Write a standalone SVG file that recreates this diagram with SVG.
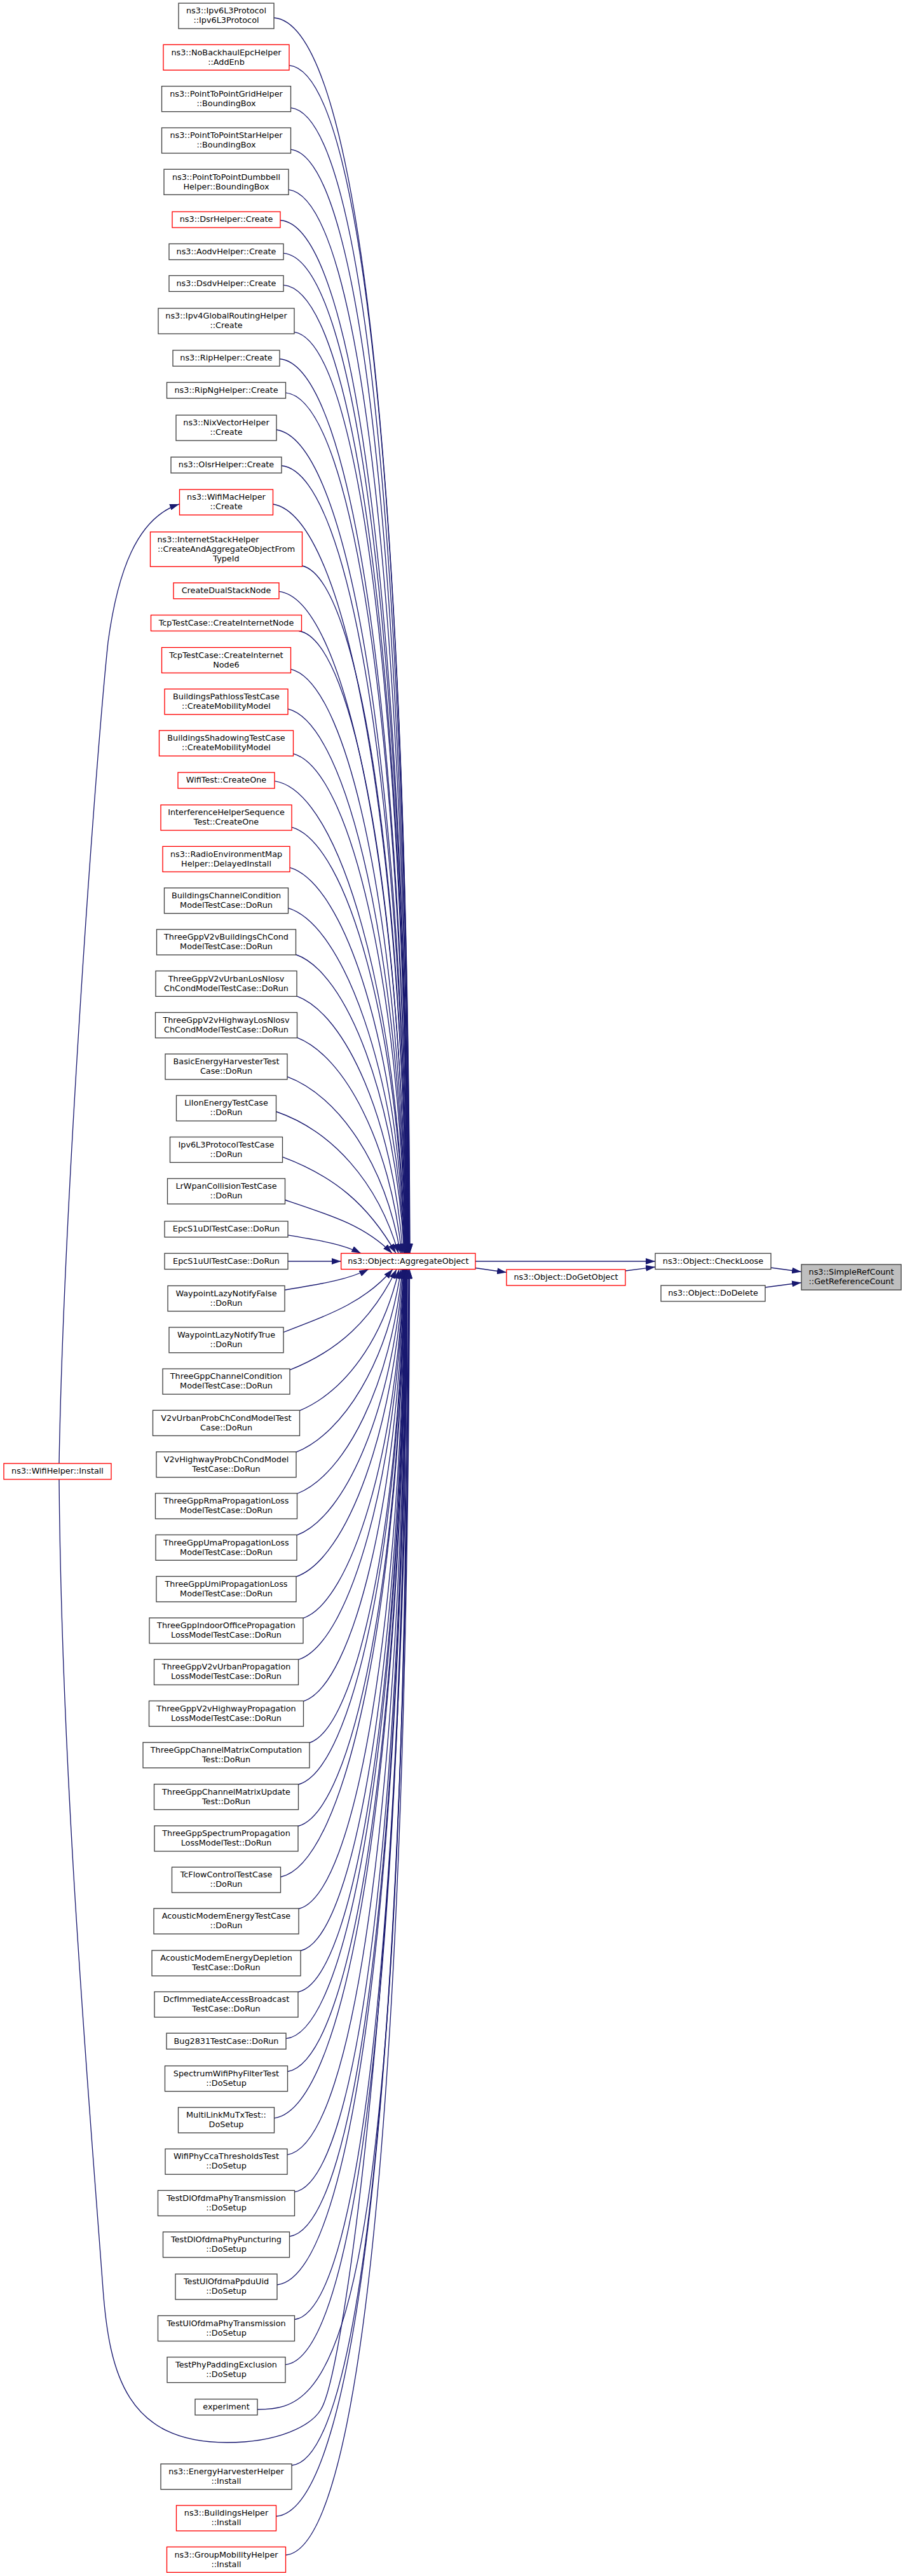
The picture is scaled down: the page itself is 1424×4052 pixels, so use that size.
<svg xmlns="http://www.w3.org/2000/svg" width="1424" height="4052" viewBox="0 0 1424 4052">
<style>
.node rect{fill:#ffffff;stroke:#404040;stroke-width:1.33}
.node.red rect{stroke:#ff0000}
.node.cur rect{fill:#bfbfbf}
text{font-family:"DejaVu Sans","Liberation Sans",sans-serif;font-size:12.8px;fill:#000;text-anchor:middle}
#edges path{fill:none;stroke:#191970;stroke-width:1.33;marker-end:url(#ah)}
</style>
<defs>
<marker id="ah" markerWidth="15" markerHeight="10" refX="15" refY="5" orient="auto" markerUnits="userSpaceOnUse"><path d="M0,0 L15,5 L0,10 z" fill="#191970"/></marker>
</defs>
<rect x="0" y="0" width="1424" height="4052" fill="#ffffff"/>
<g id="edges">
<path d="M431,28 C569.9,38.1 640.9,805.4 645,1971.5"/>
<path d="M455,102.9 C576.3,113.9 640.8,857.9 644.6,1971.5"/>
<path d="M457.5,169.7 C575.6,181.5 640.4,904.8 644.3,1971.5"/>
<path d="M457.5,235.1 C573.8,247.7 639.9,950.5 643.9,1971.5"/>
<path d="M454,298.3 C570.7,311.7 639.3,992.7 643.5,1971.5"/>
<path d="M441,346.5 C564.5,354.8 638.4,1025.8 643.1,1971.5"/>
<path d="M446,398.3 C564.9,407.1 638.1,1060.6 642.8,1971.5"/>
<path d="M446,448.3 C563.4,457.4 637.6,1092.6 642.4,1971.5"/>
<path d="M463,522.4 C568.4,538.5 637.4,1141.2 642,1971.5"/>
<path d="M440,564.5 C557.7,574.5 636.2,1169.5 641.6,1971.5"/>
<path d="M449.5,617.8 C560.4,628.1 636,1202.6 641.3,1971.5"/>
<path d="M435,676 C552.6,693.9 634.9,1240.8 640.9,1971.5"/>
<path d="M443,732.5 C554.4,743.7 634.5,1276.4 640.5,1971.5"/>
<path d="M429.5,793 C546.6,812.4 633.4,1313.9 640.1,1971.5"/>
<path d="M475.5,890 C565,910.5 634.1,1373.4 639.8,1971.5"/>
<path d="M439,930.3 C547.2,942.9 632.2,1398.8 639.4,1971.5"/>
<path d="M470,992.5 C559.9,1005.6 632.5,1436.2 639,1971.5"/>
<path d="M457.5,1052.6 C552.6,1075.1 631.2,1471.6 638.6,1971.5"/>
<path d="M453,1115.2 C548.8,1138.5 630.2,1509.1 638.3,1971.5"/>
<path d="M461.5,1185.6 C551.3,1209.7 629.5,1550.3 637.9,1971.5"/>
<path d="M432,1228.6 C535.6,1243.4 627.1,1574.8 637.5,1971.5"/>
<path d="M459,1301.1 C547.2,1326.6 627.1,1616.2 637.1,1971.5"/>
<path d="M456,1364.6 C544,1390.9 625.6,1651.7 636.8,1971.5"/>
<path d="M453.5,1428.4 C541.1,1455.5 623.8,1687.5 636.4,1971.5"/>
<path d="M465.5,1501.5 C545.8,1529.4 622.4,1727.6 636,1971.5"/>
<path d="M467,1566.8 C544.3,1595.5 618.5,1762.7 634,1971.5"/>
<path d="M467.5,1632.1 C542.3,1661.6 613.8,1797.7 632,1971.5"/>
<path d="M452,1693.7 C532.1,1723.7 606,1829.8 630,1971.5"/>
<path d="M434.5,1748.5 C521.1,1778.5 594.6,1857.8 627,1971.5"/>
<path d="M444.5,1819.8 C524.8,1849.8 578.9,1894.1 623,1971.5"/>
<path d="M448.5,1887.5 C524.3,1912.7 574.9,1928.7 617,1971.5"/>
<path d="M453,1942.9 C504.8,1951.5 539.3,1956.9 568,1971.5"/>
<path d="M452.9,1984 L536.7,1984"/>
<path d="M448,2029.1 C507.4,2019.3 547,2013.1 580,1996.5"/>
<path d="M446,2095.6 C523.4,2065.9 575,2047 618,1996.5"/>
<path d="M456,2154.9 C531.6,2124.9 584.2,2077.3 624,1996.5"/>
<path d="M471.5,2218.9 C541.9,2188.9 601.6,2109.9 628,1996.5"/>
<path d="M466,2284.2 C540.3,2254.2 609.5,2143.2 631,1996.5"/>
<path d="M467.5,2349.5 C543,2320.1 615.4,2177.6 633,1996.5"/>
<path d="M467,2414.8 C544.5,2386.2 619,2212.3 634,1996.5"/>
<path d="M466,2480.1 C545.8,2452.3 621.9,2248 635,1996.5"/>
<path d="M477,2545.4 C553,2518.4 624.5,2284.1 635.3,1996.5"/>
<path d="M469.5,2610.7 C550.6,2584.5 625.5,2320.2 635.6,1996.5"/>
<path d="M477.5,2676 C556.1,2650.6 627.2,2357.3 635.9,1996.5"/>
<path d="M487,2741.3 C562.2,2716.7 628.7,2394.2 636.2,1996.5"/>
<path d="M469.5,2807 C555,2783.2 628.8,2432.6 636.5,1996.5"/>
<path d="M469,2872.5 C556.3,2849.5 629.6,2470.4 636.8,1996.5"/>
<path d="M441.5,2952.5 C545.2,2930.5 629.4,2518.5 637.1,1996.5"/>
<path d="M470,3002.5 C559.7,2981.1 631.2,2548.8 637.4,1996.5"/>
<path d="M473,3068.5 C562.6,3047.9 631.9,2588.2 637.7,1996.5"/>
<path d="M469,3133.5 C562.1,3113.6 632.4,2628.7 638,1996.5"/>
<path d="M450,3206.7 C555.4,3195.3 632.5,2674.2 638.3,1996.5"/>
<path d="M452.5,3258.5 C558,3240.2 633.1,2705.7 638.6,1996.5"/>
<path d="M431.5,3331.9 C551,3314.5 633.1,2753.7 638.9,1996.5"/>
<path d="M452,3389.4 C561,3372.6 634.2,2790.5 639.2,1996.5"/>
<path d="M463.5,3447.8 C567.3,3431.8 635,2828.1 639.5,1996.5"/>
<path d="M455.5,3517.9 C565.7,3502.7 635.3,2874.3 639.8,1996.5"/>
<path d="M436,3594 C559.9,3579.7 635.3,2924.6 640.1,1996.5"/>
<path d="M463.5,3648.5 C572.1,3634.9 636.4,2961.3 640.4,1996.5"/>
<path d="M449,3719.7 C568.4,3707 636.5,3009.7 640.7,1996.5"/>
<path d="M405,3790 C515,3790 640,3750 641,1996.5"/>
<path d="M93,2327 C97,2800 140,3300 162,3600 C172,3735 200,3842 357,3842 C440,3842 490,3815 505,3790 C545,3725 640,3000 643,1996.5"/>
<path d="M459,3878 C577.4,3867.2 639.8,3117.9 643.5,1996.5"/>
<path d="M434.5,3958 C570.7,3948 640,3173.4 644,1996.5"/>
<path d="M449.5,4019 C576.3,4009 640.9,3210 644.5,1996.5"/>
<path d="M93,2302 C100,1900 150,1200 170,1010 C185,900 215,815 282,793"/>
<path d="M748,1984 L1031,1984"/>
<path d="M748,1994.5 C765,1997 780,1999 797,2001.5"/>
<path d="M984,1999 L1031,1993"/>
<path d="M1213,1994 L1261,2000.5"/>
<path d="M1204,2025 L1261,2017.5"/>
</g>
<g id="n1" class="node"><rect x="281" y="5" width="150" height="40"/><text x="356" y="21.2">ns3::Ipv6L3Protocol<tspan x="356" dy="15">::Ipv6L3Protocol</tspan></text></g>
<g id="n2" class="node red"><rect x="257" y="70.3" width="198" height="40"/><text x="356" y="86.5">ns3::NoBackhaulEpcHelper<tspan x="356" dy="15">::AddEnb</tspan></text></g>
<g id="n3" class="node"><rect x="254.5" y="135.6" width="203" height="40"/><text x="356" y="151.8">ns3::PointToPointGridHelper<tspan x="356" dy="15">::BoundingBox</tspan></text></g>
<g id="n4" class="node"><rect x="254.5" y="201" width="203" height="40"/><text x="356" y="217.2">ns3::PointToPointStarHelper<tspan x="356" dy="15">::BoundingBox</tspan></text></g>
<g id="n5" class="node"><rect x="258" y="266.3" width="196" height="40"/><text x="356" y="282.5">ns3::PointToPointDumbbell<tspan x="356" dy="15">Helper::BoundingBox</tspan></text></g>
<g id="n6" class="node red"><rect x="271" y="333" width="170" height="25"/><text x="356" y="349.3">ns3::DsrHelper::Create</text></g>
<g id="n7" class="node"><rect x="266" y="383.5" width="180" height="25"/><text x="356" y="399.8">ns3::AodvHelper::Create</text></g>
<g id="n8" class="node"><rect x="266" y="433.5" width="180" height="25"/><text x="356" y="449.8">ns3::DsdvHelper::Create</text></g>
<g id="n9" class="node"><rect x="249" y="485" width="214" height="40"/><text x="356" y="501.2">ns3::Ipv4GlobalRoutingHelper<tspan x="356" dy="15">::Create</tspan></text></g>
<g id="n10" class="node"><rect x="272" y="551" width="168" height="25"/><text x="356" y="567.3">ns3::RipHelper::Create</text></g>
<g id="n11" class="node"><rect x="262.5" y="601.5" width="187" height="25"/><text x="356" y="617.8">ns3::RipNgHelper::Create</text></g>
<g id="n12" class="node"><rect x="277" y="653" width="158" height="40"/><text x="356" y="669.2">ns3::NixVectorHelper<tspan x="356" dy="15">::Create</tspan></text></g>
<g id="n13" class="node"><rect x="269" y="719" width="174" height="25"/><text x="356" y="735.3">ns3::OlsrHelper::Create</text></g>
<g id="n14" class="node red"><rect x="282.5" y="770" width="147" height="40"/><text x="356" y="786.2">ns3::WifiMacHelper<tspan x="356" dy="15">::Create</tspan></text></g>
<g id="n15" class="node red"><rect x="236.5" y="836.75" width="239" height="54.5"/><text x="247.5" y="853.2" style="text-anchor:start">ns3::InternetStackHelper</text><text x="356" y="868.2">::CreateAndAggregateObjectFrom<tspan x="356" dy="15">TypeId</tspan></text></g>
<g id="n16" class="node red"><rect x="273" y="916.8" width="166" height="25"/><text x="356" y="933.1">CreateDualStackNode</text></g>
<g id="n17" class="node red"><rect x="237.5" y="967.5" width="237" height="25"/><text x="356" y="983.8">TcpTestCase::CreateInternetNode</text></g>
<g id="n18" class="node red"><rect x="254.5" y="1018.5" width="203" height="40"/><text x="356" y="1034.7">TcpTestCase::CreateInternet<tspan x="356" dy="15">Node6</tspan></text></g>
<g id="n19" class="node red"><rect x="259" y="1083.8" width="194" height="40"/><text x="356" y="1100">BuildingsPathlossTestCase<tspan x="356" dy="15">::CreateMobilityModel</tspan></text></g>
<g id="n20" class="node red"><rect x="250.5" y="1149.1" width="211" height="40"/><text x="356" y="1165.3">BuildingsShadowingTestCase<tspan x="356" dy="15">::CreateMobilityModel</tspan></text></g>
<g id="n21" class="node red"><rect x="280" y="1215.1" width="152" height="25"/><text x="356" y="1231.4">WifiTest::CreateOne</text></g>
<g id="n22" class="node red"><rect x="253" y="1266.1" width="206" height="40"/><text x="356" y="1282.3">InterferenceHelperSequence<tspan x="356" dy="15">Test::CreateOne</tspan></text></g>
<g id="n23" class="node red"><rect x="256" y="1331.4" width="200" height="40"/><text x="356" y="1347.6">ns3::RadioEnvironmentMap<tspan x="356" dy="15">Helper::DelayedInstall</tspan></text></g>
<g id="n24" class="node"><rect x="258.5" y="1396.7" width="195" height="40"/><text x="356" y="1412.9">BuildingsChannelCondition<tspan x="356" dy="15">ModelTestCase::DoRun</tspan></text></g>
<g id="n25" class="node"><rect x="246.5" y="1462" width="219" height="40"/><text x="356" y="1478.2">ThreeGppV2vBuildingsChCond<tspan x="356" dy="15">ModelTestCase::DoRun</tspan></text></g>
<g id="n26" class="node"><rect x="245" y="1527.3" width="222" height="40"/><text x="356" y="1543.5">ThreeGppV2vUrbanLosNlosv<tspan x="356" dy="15">ChCondModelTestCase::DoRun</tspan></text></g>
<g id="n27" class="node"><rect x="244.5" y="1592.6" width="223" height="40"/><text x="356" y="1608.8">ThreeGppV2vHighwayLosNlosv<tspan x="356" dy="15">ChCondModelTestCase::DoRun</tspan></text></g>
<g id="n28" class="node"><rect x="260" y="1657.9" width="192" height="40"/><text x="356" y="1674.1">BasicEnergyHarvesterTest<tspan x="356" dy="15">Case::DoRun</tspan></text></g>
<g id="n29" class="node"><rect x="277.5" y="1723.2" width="157" height="40"/><text x="356" y="1739.4">LiIonEnergyTestCase<tspan x="356" dy="15">::DoRun</tspan></text></g>
<g id="n30" class="node"><rect x="267.5" y="1788.5" width="177" height="40"/><text x="356" y="1804.7">Ipv6L3ProtocolTestCase<tspan x="356" dy="15">::DoRun</tspan></text></g>
<g id="n31" class="node"><rect x="263.5" y="1853.8" width="185" height="40"/><text x="356" y="1870">LrWpanCollisionTestCase<tspan x="356" dy="15">::DoRun</tspan></text></g>
<g id="n32" class="node"><rect x="259" y="1921" width="194" height="25"/><text x="356" y="1937.3">EpcS1uDlTestCase::DoRun</text></g>
<g id="n33" class="node"><rect x="259" y="1971.5" width="194" height="25"/><text x="356" y="1987.8">EpcS1uUlTestCase::DoRun</text></g>
<g id="n34" class="node"><rect x="264" y="2022.5" width="184" height="40"/><text x="356" y="2038.7">WaypointLazyNotifyFalse<tspan x="356" dy="15">::DoRun</tspan></text></g>
<g id="n35" class="node"><rect x="266" y="2087.8" width="180" height="40"/><text x="356" y="2104">WaypointLazyNotifyTrue<tspan x="356" dy="15">::DoRun</tspan></text></g>
<g id="n36" class="node"><rect x="256" y="2153.1" width="200" height="40"/><text x="356" y="2169.3">ThreeGppChannelCondition<tspan x="356" dy="15">ModelTestCase::DoRun</tspan></text></g>
<g id="n37" class="node"><rect x="240.5" y="2218.4" width="231" height="40"/><text x="356" y="2234.6">V2vUrbanProbChCondModelTest<tspan x="356" dy="15">Case::DoRun</tspan></text></g>
<g id="n38" class="node"><rect x="246" y="2283.7" width="220" height="40"/><text x="356" y="2299.9">V2vHighwayProbChCondModel<tspan x="356" dy="15">TestCase::DoRun</tspan></text></g>
<g id="n39" class="node"><rect x="244.5" y="2349" width="223" height="40"/><text x="356" y="2365.2">ThreeGppRmaPropagationLoss<tspan x="356" dy="15">ModelTestCase::DoRun</tspan></text></g>
<g id="n40" class="node"><rect x="245" y="2414.3" width="222" height="40"/><text x="356" y="2430.5">ThreeGppUmaPropagationLoss<tspan x="356" dy="15">ModelTestCase::DoRun</tspan></text></g>
<g id="n41" class="node"><rect x="246" y="2479.6" width="220" height="40"/><text x="356" y="2495.8">ThreeGppUmiPropagationLoss<tspan x="356" dy="15">ModelTestCase::DoRun</tspan></text></g>
<g id="n42" class="node"><rect x="235" y="2544.9" width="242" height="40"/><text x="356" y="2561.1">ThreeGppIndoorOfficePropagation<tspan x="356" dy="15">LossModelTestCase::DoRun</tspan></text></g>
<g id="n43" class="node"><rect x="242.5" y="2610.2" width="227" height="40"/><text x="356" y="2626.4">ThreeGppV2vUrbanPropagation<tspan x="356" dy="15">LossModelTestCase::DoRun</tspan></text></g>
<g id="n44" class="node"><rect x="234.5" y="2675.5" width="243" height="40"/><text x="356" y="2691.7">ThreeGppV2vHighwayPropagation<tspan x="356" dy="15">LossModelTestCase::DoRun</tspan></text></g>
<g id="n45" class="node"><rect x="225" y="2740.8" width="262" height="40"/><text x="356" y="2757">ThreeGppChannelMatrixComputation<tspan x="356" dy="15">Test::DoRun</tspan></text></g>
<g id="n46" class="node"><rect x="242.5" y="2806.5" width="227" height="40"/><text x="356" y="2822.7">ThreeGppChannelMatrixUpdate<tspan x="356" dy="15">Test::DoRun</tspan></text></g>
<g id="n47" class="node"><rect x="243" y="2872" width="226" height="40"/><text x="356" y="2888.2">ThreeGppSpectrumPropagation<tspan x="356" dy="15">LossModelTest::DoRun</tspan></text></g>
<g id="n48" class="node"><rect x="270.5" y="2937" width="171" height="40"/><text x="356" y="2953.2">TcFlowControlTestCase<tspan x="356" dy="15">::DoRun</tspan></text></g>
<g id="n49" class="node"><rect x="242" y="3002" width="228" height="40"/><text x="356" y="3018.2">AcousticModemEnergyTestCase<tspan x="356" dy="15">::DoRun</tspan></text></g>
<g id="n50" class="node"><rect x="239" y="3068" width="234" height="40"/><text x="356" y="3084.2">AcousticModemEnergyDepletion<tspan x="356" dy="15">TestCase::DoRun</tspan></text></g>
<g id="n51" class="node"><rect x="243" y="3133" width="226" height="40"/><text x="356" y="3149.2">DcfImmediateAccessBroadcast<tspan x="356" dy="15">TestCase::DoRun</tspan></text></g>
<g id="n52" class="node"><rect x="262" y="3198.2" width="188" height="25"/><text x="356" y="3214.5">Bug2831TestCase::DoRun</text></g>
<g id="n53" class="node"><rect x="259.5" y="3249.6" width="193" height="40"/><text x="356" y="3265.8">SpectrumWifiPhyFilterTest<tspan x="356" dy="15">::DoSetup</tspan></text></g>
<g id="n54" class="node"><rect x="280.5" y="3314.9" width="151" height="40"/><text x="356" y="3331.1">MultiLinkMuTxTest::<tspan x="356" dy="15">DoSetup</tspan></text></g>
<g id="n55" class="node"><rect x="260" y="3380.2" width="192" height="40"/><text x="356" y="3396.4">WifiPhyCcaThresholdsTest<tspan x="356" dy="15">::DoSetup</tspan></text></g>
<g id="n56" class="node"><rect x="248.5" y="3445.5" width="215" height="40"/><text x="356" y="3461.7">TestDlOfdmaPhyTransmission<tspan x="356" dy="15">::DoSetup</tspan></text></g>
<g id="n57" class="node"><rect x="256.5" y="3510.8" width="199" height="40"/><text x="356" y="3527">TestDlOfdmaPhyPuncturing<tspan x="356" dy="15">::DoSetup</tspan></text></g>
<g id="n58" class="node"><rect x="276" y="3577" width="160" height="40"/><text x="356" y="3593.2">TestUlOfdmaPpduUid<tspan x="356" dy="15">::DoSetup</tspan></text></g>
<g id="n59" class="node"><rect x="248.5" y="3642.5" width="215" height="40"/><text x="356" y="3658.7">TestUlOfdmaPhyTransmission<tspan x="356" dy="15">::DoSetup</tspan></text></g>
<g id="n60" class="node"><rect x="263" y="3707.7" width="186" height="40"/><text x="356" y="3723.9">TestPhyPaddingExclusion<tspan x="356" dy="15">::DoSetup</tspan></text></g>
<g id="n61" class="node"><rect x="307" y="3773.8" width="98" height="25"/><text x="356" y="3790.1">experiment</text></g>
<g id="n62" class="node"><rect x="253" y="3875.7" width="206" height="40"/><text x="356" y="3891.9">ns3::EnergyHarvesterHelper<tspan x="356" dy="15">::Install</tspan></text></g>
<g id="n63" class="node red"><rect x="277.5" y="3941" width="157" height="40"/><text x="356" y="3957.2">ns3::BuildingsHelper<tspan x="356" dy="15">::Install</tspan></text></g>
<g id="n64" class="node red"><rect x="262.5" y="4006.3" width="187" height="40"/><text x="356" y="4022.5">ns3::GroupMobilityHelper<tspan x="356" dy="15">::Install</tspan></text></g>
<g id="wifiInstall" class="node red"><rect x="6" y="2302" width="169" height="25"/><text x="90.5" y="2318.3">ns3::WifiHelper::Install</text></g>
<g id="aggregate" class="node red"><rect x="536.7" y="1971.5" width="211.3" height="25"/><text x="642.3" y="1987.8">ns3::Object::AggregateObject</text></g>
<g id="doGetObject" class="node red"><rect x="797" y="1997" width="187" height="25"/><text x="890.5" y="2013.3">ns3::Object::DoGetObject</text></g>
<g id="checkLoose" class="node"><rect x="1031" y="1971.5" width="182" height="25"/><text x="1122" y="1987.8">ns3::Object::CheckLoose</text></g>
<g id="doDelete" class="node"><rect x="1040" y="2022" width="164" height="25"/><text x="1122" y="2038.3">ns3::Object::DoDelete</text></g>
<g id="getRefCount" class="node cur"><rect x="1261" y="1989" width="157" height="40"/><text x="1339.5" y="2005.2">ns3::SimpleRefCount<tspan x="1339.5" dy="15">::GetReferenceCount</tspan></text></g>
</svg>
